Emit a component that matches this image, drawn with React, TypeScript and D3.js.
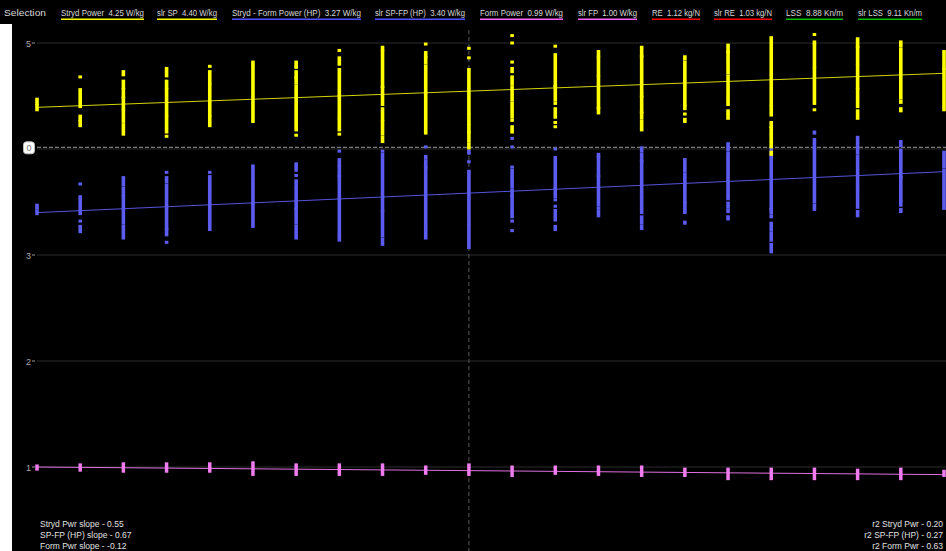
import React from 'react';
import * as d3 from 'd3';

// Sessions along the x axis (one column of samples per session)
const sessions = [
  'S01', 'S02', 'S03', 'S04', 'S05', 'S06', 'S07', 'S08', 'S09', 'S10', 'S11',
  'S12', 'S13', 'S14', 'S15', 'S16', 'S17', 'S18', 'S19', 'S20', 'S21', 'S22',
];

// Stryd power samples (W/kg), as contiguous runs [lo, hi] per session
const strydRuns: [number, number][][] = [
  [[4.43, 4.47], [4.37, 4.41]],
  [[4.68, 4.68], [4.40, 4.56], [4.28, 4.31], [4.22, 4.26]],
  [[4.70, 4.73], [4.58, 4.64], [4.49, 4.56], [4.38, 4.48], [4.26, 4.36], [4.14, 4.23]],
  [[4.69, 4.76], [4.58, 4.64], [4.32, 4.56], [4.16, 4.30], [4.12, 4.12]],
  [[4.78, 4.78], [4.62, 4.73], [4.32, 4.60], [4.22, 4.30]],
  [[4.80, 4.82], [4.26, 4.78]],
  [[4.79, 4.82], [4.77, 4.77], [4.68, 4.73], [4.62, 4.67], [4.18, 4.59], [4.13, 4.13]],
  [[4.93, 4.93], [4.80, 4.86], [4.30, 4.75], [4.18, 4.28], [4.14, 4.14]],
  [[4.94, 4.96], [4.59, 4.92], [4.42, 4.58], [4.28, 4.38], [4.14, 4.26], [4.07, 4.11]],
  [[4.99, 4.99], [4.88, 4.91], [4.81, 4.86], [4.15, 4.78]],
  [[4.95, 4.95], [4.86, 4.86], [4.34, 4.75], [4.24, 4.32], [4.16, 4.22], [4.08, 4.15], [4.01, 4.05]],
  [[5.07, 5.07], [5.00, 5.00], [4.82, 4.82], [4.73, 4.76], [4.61, 4.68], [4.46, 4.58], [4.30, 4.43], [4.27, 4.27], [4.16, 4.21]],
  [[4.97, 4.97], [4.60, 4.89], [4.46, 4.59], [4.43, 4.43], [4.30, 4.38], [4.25, 4.25], [4.21, 4.21]],
  [[4.88, 4.92], [4.70, 4.86], [4.39, 4.68], [4.34, 4.38]],
  [[4.88, 4.96], [4.54, 4.87], [4.50, 4.52], [4.35, 4.49], [4.29, 4.34], [4.18, 4.26]],
  [[4.85, 4.87], [4.42, 4.82], [4.38, 4.40], [4.33, 4.33], [4.26, 4.28]],
  [[4.92, 4.98], [4.86, 4.91], [4.72, 4.84], [4.48, 4.69], [4.42, 4.46], [4.34, 4.36], [4.29, 4.32]],
  [[4.42, 5.05], [4.32, 4.40], [4.21, 4.25], [4.15, 4.20], [4.08, 4.13], [4.02, 4.06], [3.95, 3.97]],
  [[5.08, 5.08], [5.00, 5.01], [4.78, 4.98], [4.43, 4.76], [4.37, 4.37]],
  [[4.97, 5.04], [4.81, 4.96], [4.58, 4.79], [4.40, 4.56], [4.29, 4.36]],
  [[4.97, 5.01], [4.48, 4.94], [4.44, 4.45], [4.36, 4.38]],
  [[4.76, 4.92], [4.37, 4.75]],
];

// Stryd power minus form power (HP), W/kg
const spfpRuns: [number, number][][] = [
  [[3.44, 3.47], [3.39, 3.41]],
  [[3.67, 3.67], [3.39, 3.55], [3.32, 3.32], [3.22, 3.27]],
  [[3.66, 3.73], [3.57, 3.63], [3.30, 3.55], [3.16, 3.27]],
  [[3.78, 3.78], [3.69, 3.73], [3.25, 3.66], [3.19, 3.24], [3.12, 3.12]],
  [[3.78, 3.78], [3.64, 3.74], [3.24, 3.62]],
  [[3.73, 3.84], [3.49, 3.71], [3.27, 3.47]],
  [[3.80, 3.86], [3.75, 3.75], [3.64, 3.70], [3.44, 3.62], [3.30, 3.43], [3.16, 3.27]],
  [[3.98, 3.98], [3.85, 3.90], [3.75, 3.83], [3.20, 3.74], [3.14, 3.18]],
  [[3.98, 3.98], [3.42, 3.95], [3.18, 3.41], [3.10, 3.15]],
  [[4.02, 4.02], [3.92, 3.93], [3.83, 3.89], [3.24, 3.82], [3.16, 3.22]],
  [[3.96, 3.98], [3.88, 3.88], [3.30, 3.79], [3.07, 3.28]],
  [[4.10, 4.10], [4.02, 4.02], [3.83, 3.83], [3.74, 3.80], [3.64, 3.72], [3.56, 3.61], [3.42, 3.55], [3.36, 3.40], [3.32, 3.32], [3.23, 3.23]],
  [[4.00, 4.00], [3.64, 3.92], [3.55, 3.62], [3.52, 3.52], [3.46, 3.46], [3.33, 3.42], [3.24, 3.27]],
  [[3.93, 3.95], [3.75, 3.92], [3.47, 3.74], [3.44, 3.44], [3.37, 3.41]],
  [[3.98, 4.01], [3.89, 3.95], [3.55, 3.88], [3.40, 3.53], [3.30, 3.36], [3.25, 3.27]],
  [[3.79, 3.90], [3.50, 3.76], [3.44, 3.49], [3.40, 3.42], [3.30, 3.31]],
  [[3.99, 4.05], [3.92, 3.96], [3.57, 3.90], [3.53, 3.55], [3.45, 3.49], [3.41, 3.42], [3.34, 3.36]],
  [[3.44, 4.02], [3.40, 3.43], [3.36, 3.37], [3.24, 3.30], [3.14, 3.21], [3.03, 3.10]],
  [[4.15, 4.16], [3.50, 4.09], [3.43, 3.47]],
  [[4.06, 4.11], [3.96, 4.04], [3.63, 3.93], [3.45, 3.61], [3.37, 3.41]],
  [[4.03, 4.07], [3.74, 3.99], [3.52, 3.73], [3.47, 3.50], [3.41, 3.43]],
  [[3.83, 3.97], [3.44, 3.80]],
];

// Form power, W/kg
const formRuns: [number, number][][] = [
  [[0.98, 1.01]], [[0.97, 1.02]], [[0.96, 1.03]], [[0.96, 1.03]], [[0.96, 1.03]],
  [[0.93, 1.04]], [[0.93, 1.02]], [[0.93, 1.02]], [[0.93, 1.02]], [[0.94, 1.00]],
  [[0.93, 1.02]], [[0.92, 1.00]], [[0.94, 1.00]], [[0.93, 1.00]], [[0.92, 1.00]],
  [[0.92, 0.98]], [[0.89, 0.98]], [[0.89, 0.98]], [[0.89, 0.98]], [[0.89, 0.97]],
  [[0.89, 0.98]], [[0.92, 0.96]],
];

// Linear regression end values (first and last session)
const strydTrend = [4.393, 4.714];
const spfpTrend = [3.40, 3.786];
const formTrend = [1.0, 0.928];

const yTicks = [1, 2, 3, 4, 5];

// Cursor position
const cursorSession = 'S11';
const cursorValue = 4.016;
const cursorLabel = '0';

const legendLabels = [
  'Stryd Power  4.25 W/kg',
  'slr SP  4.40 W/kg',
  'Stryd - Form Power (HP)  3.27 W/kg',
  'slr SP-FP (HP)  3.40 W/kg',
  'Form Power  0.99 W/kg',
  'slr FP  1.00 W/kg',
  'RE  1.12 kg/N',
  'slr RE  1.03 kg/N',
  'LSS  8.88 Kn/m',
  'slr LSS  9.11 Kn/m',
];
const legendColors = [
  '#ffff00', '#ffff00', '#5050ff', '#5050ff', '#ff60ff', '#ff60ff',
  '#ff0000', '#ff0000', '#00c000', '#00c000',
];

const slopeLabels = [
  'Stryd Pwr slope - 0.55',
  'SP-FP (HP) slope - 0.67',
  'Form Pwr slope - -0.12',
];
const r2Labels = [
  'r2 Stryd Pwr - 0.20',
  'r2 SP-FP (HP) - 0.27',
  'r2 Form Pwr - 0.63',
];

// Layout
const W = 946;
const H = 551;
const legendX = [61, 157, 232, 375, 480, 578, 652, 714, 786, 858];
const legendW = [83, 60, 129, 90, 83, 59, 48, 58, 57, 64];
const FONT = '"Liberation Sans", Arial, sans-serif';

export default function App() {
  const x = d3.scalePoint<string>().domain(sessions).range([37, 944]);
  const y = d3.scaleLinear().domain([1, 5]).range([467, 43]);

  const trendLine = (vals: number[], color: string) => (
    <line
      x1={x(sessions[0])}
      x2={x(sessions[sessions.length - 1])}
      y1={y(vals[0])}
      y2={y(vals[1])}
      stroke={color}
      strokeWidth={1}
    />
  );

  const runs = (data: [number, number][][], color: string, w: number) =>
    data.flatMap((col, i) =>
      col.map(([lo, hi], j) => {
        const cx = x(sessions[i]) as number;
        const top = y(hi) - 1.5;
        const bottom = y(lo) + 1.5;
        return (
          <rect
            key={`${i}-${j}`}
            x={cx - w / 2}
            y={top}
            width={w}
            height={bottom - top}
            fill={color}
          />
        );
      })
    );

  const cx = x(cursorSession) as number;
  const cy = y(cursorValue);

  return (
    <svg
      width={W}
      height={H}
      style={{ position: 'fixed', left: 0, top: 0, display: 'block', background: '#000' }}
      fontFamily={FONT}
    >
      <rect x={0} y={0} width={W} height={H} fill="#000" />
      <rect x={0} y={24} width={12} height={H - 24} fill="#fff" />

      {/* grid and y axis */}
      {yTicks.map((t) => (
        <g key={t}>
          <line x1={37} x2={W} y1={y(t)} y2={y(t)} stroke="#2c2c2c" strokeWidth={1} />
          <line x1={32} x2={35} y1={y(t)} y2={y(t)} stroke="#9a9a9a" strokeWidth={1} />
          <text x={31} y={y(t) + 3.5} fontSize={9} fill="#a8a8a8" textAnchor="end">
            {t}
          </text>
        </g>
      ))}

      {/* cursor crosshair */}
      <line x1={cx} x2={cx} y1={30} y2={H} stroke="#5a5a5a" strokeDasharray="4 3" />
      <line x1={37} x2={W} y1={cy} y2={cy} stroke="#9a9a9a" strokeDasharray="4 2" />

      {/* regression lines */}
      {trendLine(formTrend, '#e070e0')}
      {trendLine(spfpTrend, '#5454dc')}
      {trendLine(strydTrend, '#d4d400')}

      {/* samples */}
      {runs(formRuns, '#f07cf0', 3.5)}
      {runs(spfpRuns, '#5c5cf0', 3.6)}
      {runs(strydRuns, '#ffff00', 3.6)}

      {/* cursor value badge */}
      <rect x={23.5} y={cy - 5.5} width={11} height={12} rx={3} fill="#fff" stroke="#bbb" />
      <text x={29} y={cy + 3.5} fontSize={9} fill="#777" textAnchor="middle">
        {cursorLabel}
      </text>

      {/* legend */}
      <text x={4} y={16} fontSize={8.5} fill="#d8d8d8" textLength={42} lengthAdjust="spacingAndGlyphs">
        Selection
      </text>
      {legendLabels.map((label, i) => (
        <g key={label}>
          <text
            x={legendX[i]}
            y={16}
            fontSize={8.5}
            fill="#d8d8d8"
            textLength={legendW[i]}
            lengthAdjust="spacingAndGlyphs"
            style={{ whiteSpace: 'pre' }}
          >
            {label}
          </text>
          <rect x={legendX[i]} y={18.5} width={legendW[i]} height={1.5} fill={legendColors[i]} />
        </g>
      ))}

      {/* statistics */}
      {slopeLabels.map((s, i) => (
        <text key={s} x={40} y={526.5 + i * 11} fontSize={8.5} fill="#e0e0e0">
          {s}
        </text>
      ))}
      {r2Labels.map((s, i) => (
        <text key={s} x={943} y={526.5 + i * 11} fontSize={8.5} fill="#e0e0e0" textAnchor="end">
          {s}
        </text>
      ))}
    </svg>
  );
}
